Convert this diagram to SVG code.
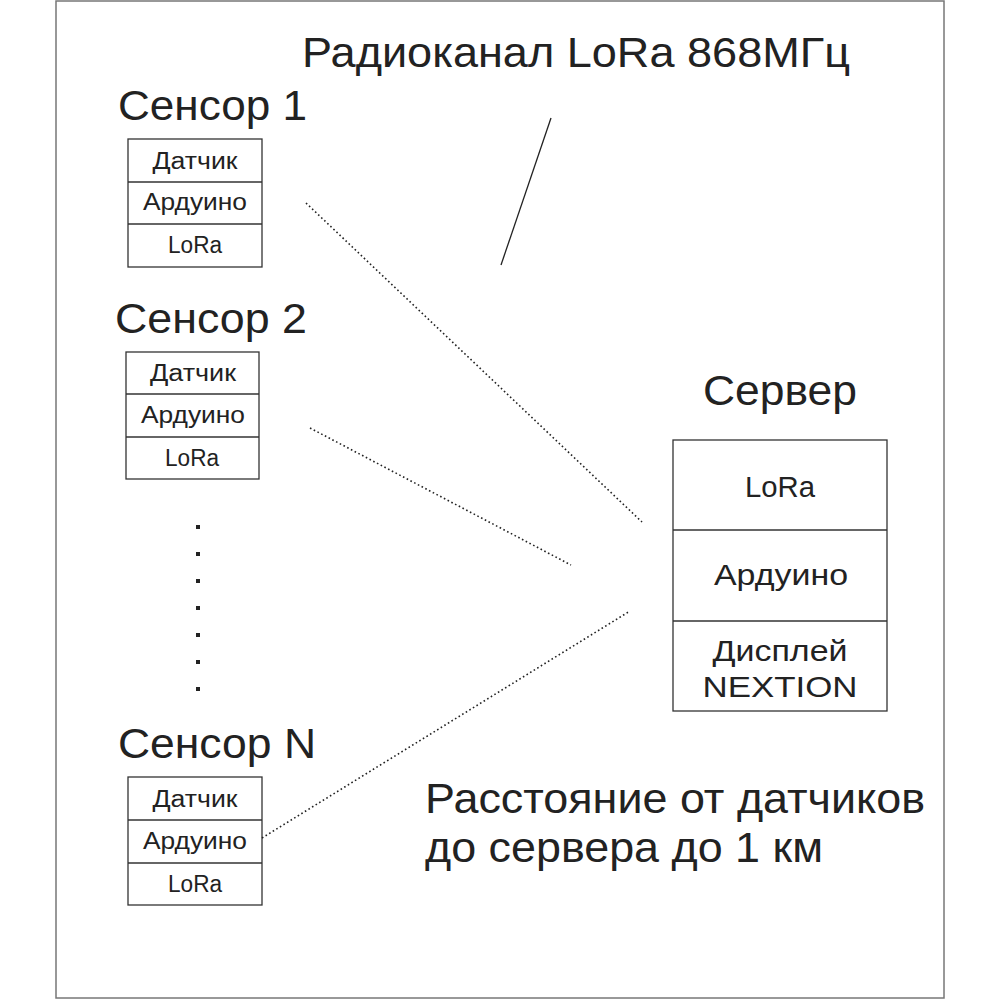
<svg xmlns="http://www.w3.org/2000/svg" width="1000" height="1000" viewBox="0 0 1000 1000">
<style>
text{font-family:"Liberation Sans",Arial,sans-serif;fill:#222;}
.big{font-size:43px;}
.cell{font-size:23px;text-anchor:middle;}
.scell{font-size:30px;text-anchor:middle;}
.box{fill:#fff;stroke:#333;stroke-width:1.3;}
.div{stroke:#333;stroke-width:1.3;}
.dot{stroke:#222;stroke-width:1.6;stroke-dasharray:1.6 2.6;fill:none;}
</style>
<rect x="0" y="0" width="1000" height="1000" fill="#fff"/>
<rect x="56" y="1" width="888" height="997" fill="none" stroke="#777" stroke-width="1.5"/>
<text class="big" x="302" y="67" textLength="548" lengthAdjust="spacingAndGlyphs">Радиоканал LoRa 868МГц</text>
<g id="sensor1">
<text class="big" x="118" y="120" textLength="189" lengthAdjust="spacingAndGlyphs">Сенсор 1</text>
<rect class="box" x="128" y="139" width="134" height="128"/>
<line class="div" x1="128" y1="182" x2="262" y2="182"/>
<line class="div" x1="128" y1="224" x2="262" y2="224"/>
<text class="cell" x="195" y="169" textLength="85" lengthAdjust="spacingAndGlyphs">Датчик</text>
<text class="cell" x="195" y="210" textLength="104" lengthAdjust="spacingAndGlyphs">Ардуино</text>
<text class="cell" x="195" y="253" textLength="54" lengthAdjust="spacingAndGlyphs">LoRa</text>
</g>
<g id="sensor2">
<text class="big" x="115" y="333" textLength="192" lengthAdjust="spacingAndGlyphs">Сенсор 2</text>
<rect class="box" x="126" y="352" width="133" height="127"/>
<line class="div" x1="126" y1="394" x2="259" y2="394"/>
<line class="div" x1="126" y1="437" x2="259" y2="437"/>
<text class="cell" x="193" y="381" textLength="86" lengthAdjust="spacingAndGlyphs">Датчик</text>
<text class="cell" x="193" y="423" textLength="104" lengthAdjust="spacingAndGlyphs">Ардуино</text>
<text class="cell" x="192" y="466" textLength="54" lengthAdjust="spacingAndGlyphs">LoRa</text>
</g>
<g id="ellipsis" fill="#222">
<rect x="196" y="525" width="4" height="4"/>
<rect x="196" y="552" width="4" height="4"/>
<rect x="196" y="579" width="4" height="4"/>
<rect x="196" y="606" width="4" height="4"/>
<rect x="196" y="633" width="4" height="4"/>
<rect x="196" y="660" width="4" height="4"/>
<rect x="196" y="687" width="4" height="4"/>
</g>
<g id="sensorN">
<text class="big" x="118" y="758" textLength="198" lengthAdjust="spacingAndGlyphs">Сенсор N</text>
<rect class="box" x="128" y="777" width="134" height="128"/>
<line class="div" x1="128" y1="820" x2="262" y2="820"/>
<line class="div" x1="128" y1="863" x2="262" y2="863"/>
<text class="cell" x="195" y="807" textLength="85" lengthAdjust="spacingAndGlyphs">Датчик</text>
<text class="cell" x="195" y="849" textLength="104" lengthAdjust="spacingAndGlyphs">Ардуино</text>
<text class="cell" x="195" y="892" textLength="54" lengthAdjust="spacingAndGlyphs">LoRa</text>
</g>
<g id="server">
<text class="big" x="780" y="405" text-anchor="middle" textLength="154" lengthAdjust="spacingAndGlyphs">Сервер</text>
<rect class="box" x="673" y="440" width="214" height="271"/>
<line class="div" x1="673" y1="530" x2="887" y2="530"/>
<line class="div" x1="673" y1="621" x2="887" y2="621"/>
<text class="scell" x="780" y="497" textLength="70" lengthAdjust="spacingAndGlyphs">LoRa</text>
<text class="scell" x="781" y="585" textLength="134" lengthAdjust="spacingAndGlyphs">Ардуино</text>
<text class="scell" x="780" y="661" textLength="135" lengthAdjust="spacingAndGlyphs">Дисплей</text>
<text class="scell" x="780" y="697" textLength="155" lengthAdjust="spacingAndGlyphs">NEXTION</text>
</g>
<g id="connectors">
<line class="dot" x1="306" y1="203" x2="642" y2="522"/>
<line class="dot" x1="310" y1="428" x2="571" y2="565"/>
<line class="dot" x1="262" y1="838" x2="630" y2="611"/>
<line x1="551" y1="118" x2="501" y2="265" stroke="#222" stroke-width="1.3"/>
</g>
<text class="big" x="425" y="813" textLength="500" lengthAdjust="spacingAndGlyphs">Расстояние от датчиков</text>
<text class="big" x="425" y="862" textLength="398" lengthAdjust="spacingAndGlyphs">до сервера до 1 км</text>
</svg>
